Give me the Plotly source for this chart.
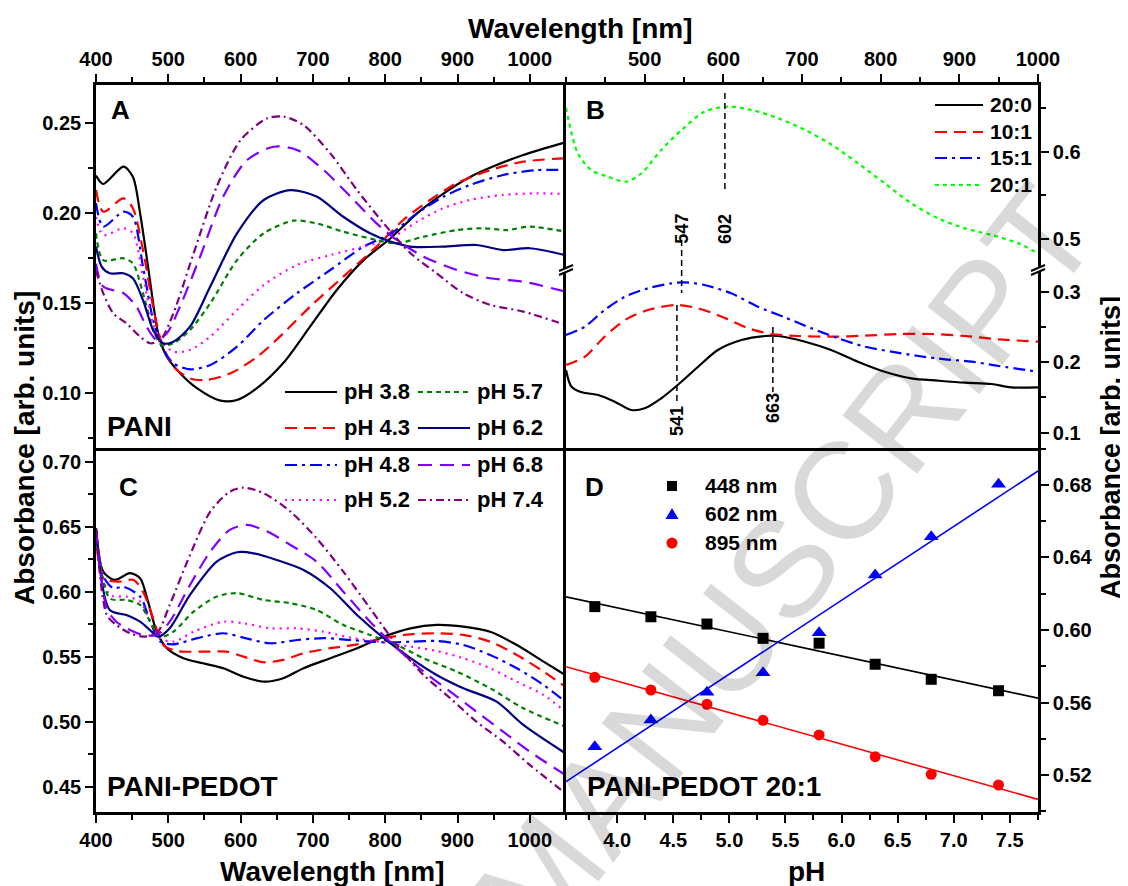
import numpy as np
import plotly.graph_objects as go

# ------------------------------------------------------------------ data
# Panel A (PANI) : wavelength [nm] / absorbance
A38_WL = [400, 410, 438, 451, 461, 472, 484, 489, 498, 516, 539, 572, 595, 623, 659, 696, 733, 770, 807, 844, 881, 918, 954, 991, 1049]
A38_AB = [0.221, 0.2163, 0.2259, 0.2203, 0.200, 0.1703, 0.137, 0.129, 0.1203, 0.1113, 0.103, 0.0959, 0.0963, 0.103, 0.1168, 0.137, 0.1574, 0.174, 0.186, 0.200, 0.2111, 0.2203, 0.2268, 0.2324, 0.2394]
A43_WL = [400, 410, 438, 451, 465, 479, 491, 507, 530, 553, 586, 623, 659, 696, 742, 788, 825, 862, 899, 945, 991, 1049]
A43_AB = [0.213, 0.2009, 0.2083, 0.2028, 0.1796, 0.1481, 0.1278, 0.1148, 0.1083, 0.1074, 0.1111, 0.1203, 0.1333, 0.1481, 0.1648, 0.1815, 0.1963, 0.2074, 0.2167, 0.224, 0.2287, 0.2306]
A48_WL = [400, 410, 438, 451, 465, 479, 491, 507, 530, 558, 595, 632, 678, 724, 770, 807, 844, 881, 917, 963, 1009, 1049]
A48_AB = [0.2056, 0.1926, 0.2009, 0.1981, 0.1703, 0.1407, 0.1259, 0.1167, 0.1133, 0.1157, 0.1259, 0.1407, 0.1556, 0.1685, 0.1815, 0.1885, 0.200, 0.2093, 0.2157, 0.2213, 0.224, 0.224]
A52_WL = [400, 410, 438, 451, 465, 479, 491, 507, 530, 558, 595, 632, 678, 724, 770, 807, 844, 880, 917, 963, 1009, 1049]
A52_AB = [0.198, 0.188, 0.1917, 0.1889, 0.1648, 0.139, 0.1287, 0.1231, 0.1241, 0.1315, 0.1463, 0.1602, 0.1713, 0.1768, 0.1815, 0.186, 0.1953, 0.2028, 0.2074, 0.2102, 0.2111, 0.2107]
A57_WL = [400, 410, 438, 451, 465, 479, 491, 507, 530, 558, 595, 632, 673, 705, 742, 788, 816, 853, 899, 936, 968, 1000, 1049]
A57_AB = [0.1889, 0.174, 0.175, 0.1722, 0.1556, 0.1352, 0.1268, 0.1278, 0.1352, 0.150, 0.174, 0.1889, 0.1959, 0.1944, 0.1898, 0.1852, 0.1833, 0.187, 0.1907, 0.1917, 0.1907, 0.1926, 0.1898]
A62_WL = [400, 408, 419, 438, 451, 465, 479, 493, 507, 530, 558, 595, 632, 669, 705, 742, 779, 807, 834, 880, 926, 963, 1000, 1049]
A62_AB = [0.1815, 0.1703, 0.1667, 0.1667, 0.1639, 0.1518, 0.1352, 0.1278, 0.1287, 0.137, 0.1593, 0.1889, 0.2074, 0.2129, 0.2093, 0.1981, 0.1889, 0.1843, 0.1815, 0.1815, 0.1824, 0.1796, 0.1806, 0.1768]
A68_WL = [400, 410, 438, 456, 470, 484, 498, 516, 544, 576, 609, 646, 678, 715, 752, 788, 816, 853, 899, 945, 991, 1049]
A68_AB = [0.172, 0.1593, 0.1556, 0.1481, 0.137, 0.1296, 0.1333, 0.1481, 0.1759, 0.2093, 0.2296, 0.237, 0.2352, 0.224, 0.2093, 0.1944, 0.1852, 0.1759, 0.1685, 0.1639, 0.162, 0.1565]
A74_WL = [400, 410, 424, 442, 461, 475, 489, 507, 535, 567, 600, 637, 660, 687, 724, 761, 798, 835, 871, 908, 945, 991, 1049]
A74_AB = [0.168, 0.1556, 0.1444, 0.1389, 0.1315, 0.1278, 0.1296, 0.1444, 0.1778, 0.2148, 0.2407, 0.2528, 0.2537, 0.249, 0.2333, 0.2129, 0.1944, 0.1778, 0.1667, 0.1556, 0.1491, 0.1454, 0.138]

# Panel C (PANI-PEDOT)
C38_WL = [400, 410, 426, 447, 461, 472, 484, 498, 521, 548, 576, 604, 632, 659, 687, 724, 761, 798, 835, 871, 908, 945, 982, 1019, 1049]
C38_AB = [0.6488, 0.6154, 0.609, 0.6142, 0.6103, 0.5923, 0.5692, 0.5565, 0.5488, 0.5449, 0.5411, 0.5346, 0.5308, 0.5334, 0.5411, 0.5488, 0.5565, 0.5654, 0.5718, 0.5744, 0.5731, 0.5692, 0.559, 0.5462, 0.5359]
C43_WL = [400, 410, 431, 452, 465, 479, 493, 512, 544, 581, 604, 632, 659, 687, 724, 761, 798, 835, 871, 908, 945, 982, 1019, 1049]
C43_AB = [0.648, 0.6103, 0.6077, 0.609, 0.600, 0.5795, 0.559, 0.5544, 0.5538, 0.5538, 0.550, 0.5457, 0.5475, 0.5526, 0.5565, 0.5595, 0.5642, 0.5672, 0.568, 0.5667, 0.5615, 0.5513, 0.5385, 0.5269]
C48_WL = [400, 410, 424, 438, 461, 475, 489, 507, 540, 576, 604, 641, 678, 715, 752, 798, 835, 871, 908, 945, 982, 1019, 1049]
C48_AB = [0.648, 0.612, 0.6026, 0.6038, 0.5962, 0.5769, 0.5615, 0.5595, 0.5642, 0.568, 0.5646, 0.5603, 0.5628, 0.5642, 0.5628, 0.561, 0.5615, 0.562, 0.559, 0.5513, 0.5411, 0.5282, 0.5154]
C52_WL = [400, 419, 442, 461, 475, 489, 507, 535, 576, 604, 641, 678, 715, 752, 798, 835, 871, 908, 945, 982, 1019, 1049]
C52_AB = [0.648, 0.5975, 0.5962, 0.5923, 0.5769, 0.5642, 0.5615, 0.5692, 0.5769, 0.5757, 0.5718, 0.5718, 0.5692, 0.5646, 0.561, 0.5577, 0.5544, 0.5488, 0.5411, 0.5308, 0.5205, 0.5077]
C57_WL = [400, 419, 442, 461, 475, 489, 507, 535, 567, 595, 632, 669, 705, 742, 779, 816, 853, 899, 945, 991, 1049]
C57_AB = [0.648, 0.5949, 0.5936, 0.5898, 0.5769, 0.5654, 0.5692, 0.5846, 0.5962, 0.5988, 0.5936, 0.5911, 0.5859, 0.5744, 0.5667, 0.559, 0.5488, 0.5385, 0.5257, 0.5103, 0.4962]
C62_WL = [400, 419, 442, 461, 477, 486, 502, 530, 567, 595, 618, 650, 687, 724, 761, 798, 835, 871, 908, 954, 991, 1049]
C62_AB = [0.648, 0.5859, 0.582, 0.5769, 0.5692, 0.5654, 0.5718, 0.5975, 0.6231, 0.6303, 0.6295, 0.6244, 0.6167, 0.6026, 0.582, 0.5642, 0.5488, 0.5359, 0.5257, 0.5154, 0.4975, 0.4757]
C68_WL = [400, 415, 428, 447, 465, 484, 502, 530, 558, 585, 609, 637, 669, 705, 742, 779, 816, 853, 890, 926, 963, 1000, 1049]
C68_AB = [0.648, 0.5872, 0.5769, 0.5705, 0.5667, 0.5667, 0.5769, 0.6051, 0.6308, 0.6475, 0.6513, 0.6462, 0.6359, 0.6231, 0.600, 0.5769, 0.5565, 0.5385, 0.5231, 0.5077, 0.4923, 0.4769, 0.459]
C74_WL = [400, 415, 428, 447, 465, 484, 502, 530, 558, 585, 604, 632, 669, 705, 742, 779, 816, 853, 890, 926, 963, 1000, 1049]
C74_AB = [0.648, 0.582, 0.5744, 0.568, 0.5654, 0.568, 0.5898, 0.6282, 0.6615, 0.6769, 0.680, 0.6757, 0.6615, 0.6411, 0.6154, 0.5872, 0.559, 0.5359, 0.518, 0.500, 0.4846, 0.4667, 0.445]

# Panel B (PANI:PEDOT ratios)
B200_WL = [400, 407, 420, 441, 462, 483, 500, 521, 542, 568, 593, 623, 653, 670, 704, 737, 771, 805, 839, 873, 907, 941, 966, 1000]
B200_AB = [0.1889, 0.1652, 0.1573, 0.1535, 0.144, 0.1322, 0.1346, 0.1488, 0.1677, 0.1936, 0.2173, 0.2315, 0.2372, 0.2372, 0.2291, 0.2173, 0.2007, 0.1865, 0.1771, 0.1738, 0.1709, 0.1691, 0.1644, 0.1644]
B101_WL = [400, 424, 449, 475, 504, 540, 568, 598, 632, 661, 695, 738, 780, 822, 865, 907, 950, 1000]
B101_AB = [0.196, 0.2078, 0.2362, 0.2599, 0.274, 0.2811, 0.2764, 0.2645, 0.2481, 0.24, 0.2372, 0.2362, 0.2376, 0.24, 0.24, 0.2372, 0.2325, 0.2291]
B151_WL = [400, 424, 449, 475, 504, 534, 551, 576, 610, 644, 678, 712, 746, 780, 814, 848, 882, 916, 950, 1000]
B151_AB = [0.2386, 0.2504, 0.274, 0.2929, 0.3048, 0.3119, 0.3133, 0.3095, 0.2977, 0.2787, 0.2637, 0.2481, 0.2339, 0.222, 0.2149, 0.2088, 0.2041, 0.2007, 0.1946, 0.1865]
B201_WL = [400, 415, 432, 453, 477, 496, 521, 547, 576, 606, 636, 670, 704, 738, 771, 805, 839, 873, 907, 941, 975, 1000]
B201_AB = [0.650, 0.598, 0.579, 0.5714, 0.5657, 0.5753, 0.6018, 0.6246, 0.6455, 0.6512, 0.6474, 0.638, 0.6246, 0.6075, 0.5867, 0.5639, 0.541, 0.5239, 0.5125, 0.5049, 0.4954, 0.484]
B_PEAKS = [541, 547, 602, 663]

# Panel D (PANI-PEDOT 20:1)
D_PH = [3.8, 4.3, 4.8, 5.3, 5.8, 6.3, 6.8, 7.4]
D_448 = [0.6129, 0.6073, 0.6033, 0.5954, 0.5927, 0.5811, 0.5728, 0.5665]
D_602 = [0.5356, 0.5503, 0.5656, 0.5764, 0.5985, 0.6303, 0.6515, 0.6804]
D_895 = [0.5739, 0.5669, 0.5590, 0.5502, 0.5421, 0.5301, 0.5204, 0.5145]

PH_LABELS = ["pH 3.8", "pH 4.3", "pH 4.8", "pH 5.2", "pH 5.7", "pH 6.2", "pH 6.8", "pH 7.4"]
B_LABELS = ["20:0", "10:1", "15:1", "20:1"]
D_LABELS = ["448 nm", "602 nm", "895 nm"]

# ------------------------------------------------------------------ styles
FONT = "Liberation Sans, Arial, sans-serif"
PH_COLORS = ["#000000", "#ff0000", "#0000ff", "#ff00ff", "#008000", "#000080", "#8000ff", "#800080"]
PH_DASH = ["solid", "12px,7px", "12px,5px,3px,5px", "2px,5px", "5px,4px", "solid", "14px,8px", "8px,4px,2px,4px"]
B_COLORS = ["#000000", "#ff0000", "#0000ff", "#00ff00"]
B_DASH = ["solid", "12px,7px", "12px,5px,3px,5px", "4px,4px"]
D_COLORS = ["#000000", "#0000ff", "#ff0000"]
D_SYMBOLS = ["square", "triangle-up", "circle"]

# frame in screen pixels (page body adds an 8px offset)
OFF = 8
W, H = 1128 - OFF, 886 - OFF
FL, FR, FT, FB = 96, 1038, 85, 812
XMID, YMID, YBRK = 566, 448, 270


def px(x):
    return (x - FL) / (FR - FL)


def py(y):
    return (FB - y) / (FB - FT)


A_SERIES = [(A38_WL, A38_AB), (A43_WL, A43_AB), (A48_WL, A48_AB), (A52_WL, A52_AB),
            (A57_WL, A57_AB), (A62_WL, A62_AB), (A68_WL, A68_AB), (A74_WL, A74_AB)]
C_SERIES = [(C38_WL, C38_AB), (C43_WL, C43_AB), (C48_WL, C48_AB), (C52_WL, C52_AB),
            (C57_WL, C57_AB), (C62_WL, C62_AB), (C68_WL, C68_AB), (C74_WL, C74_AB)]
B_LOWER = [(B200_WL, B200_AB), (B101_WL, B101_AB), (B151_WL, B151_AB)]

fig = go.Figure()

for i, (wl, ab) in enumerate(A_SERIES):
    fig.add_trace(go.Scatter(x=wl, y=ab, mode="lines", xaxis="x", yaxis="y",
                             line=dict(color=PH_COLORS[i], dash=PH_DASH[i], width=2.2, shape="spline", smoothing=0.8),
                             showlegend=False, hoverinfo="skip"))
for i, (wl, ab) in enumerate(C_SERIES):
    fig.add_trace(go.Scatter(x=wl, y=ab, mode="lines", xaxis="x2", yaxis="y2",
                             line=dict(color=PH_COLORS[i], dash=PH_DASH[i], width=2.2, shape="spline", smoothing=0.8),
                             showlegend=False, hoverinfo="skip"))
fig.add_trace(go.Scatter(x=B201_WL, y=B201_AB, mode="lines", xaxis="x3", yaxis="y3",
                         line=dict(color=B_COLORS[3], dash=B_DASH[3], width=2.2, shape="spline", smoothing=0.8),
                         showlegend=False, hoverinfo="skip"))
for i, (wl, ab) in enumerate(B_LOWER):
    fig.add_trace(go.Scatter(x=wl, y=ab, mode="lines", xaxis="x4", yaxis="y4",
                             line=dict(color=B_COLORS[i], dash=B_DASH[i], width=2.2, shape="spline", smoothing=0.8),
                             showlegend=False, hoverinfo="skip"))

D_XRANGE = [3.543, 7.752]
for vals, col, sym in zip([D_448, D_602, D_895], D_COLORS, D_SYMBOLS):
    k, b = np.polyfit(D_PH, vals, 1)
    xr = np.array(D_XRANGE)
    fig.add_trace(go.Scatter(x=xr, y=k * xr + b, mode="lines", xaxis="x5", yaxis="y5",
                             line=dict(color=col, width=1.6), showlegend=False, hoverinfo="skip"))
    size = 13 if sym == "triangle-up" else 11
    fig.add_trace(go.Scatter(x=D_PH, y=vals, mode="markers", xaxis="x5", yaxis="y5",
                             marker=dict(color=col, symbol=sym, size=size, line=dict(width=0)),
                             showlegend=False, hoverinfo="skip"))

# ------------------------------------------------------------------ axes
TICKFONT = dict(family=FONT, size=20, color="black", weight="bold")
LW = 2.6


def axis(**kw):
    base = dict(showgrid=False, zeroline=False, showline=True, linecolor="black", linewidth=LW,
                ticks="outside", ticklen=8, tickwidth=2, tickcolor="black", tickfont=TICKFONT,
                fixedrange=True)
    base.update(kw)
    return base


def minor(d, t0=0):
    return dict(dtick=d, tick0=t0, ticks="outside", ticklen=5, tickwidth=2, tickcolor="black")


xl = [0, px(XMID)]
xr_ = [px(XMID), 1]
fig.update_layout(
    xaxis=axis(domain=xl, anchor="y", side="top", range=[400, 1050], dtick=100, tick0=400, mirror=True,
               minor=minor(50, 400)),
    yaxis=axis(domain=[py(YMID), 1], anchor="x", range=[0.0696, 0.2713], dtick=0.05, tick0=0, tickformat=".2f",
               mirror=False, minor=minor(0.025)),
    xaxis2=axis(domain=xl, anchor="y2", side="bottom", range=[400, 1050], dtick=100, tick0=400, mirror=False,
                minor=minor(50, 400)),
    yaxis2=axis(domain=[0, py(YMID)], anchor="x2", range=[0.4305, 0.7105], dtick=0.05, tick0=0, tickformat=".2f",
                mirror=False, minor=minor(0.025)),
    xaxis3=axis(domain=xr_, anchor="y3", side="top", range=[400, 1000], tickmode="array",
                tickvals=[500, 600, 700, 800, 900, 1000], mirror=False, minor=minor(50, 400)),
    yaxis3=axis(domain=[py(YBRK), 1], anchor="x3", side="right", range=[0.465, 0.6759], dtick=0.1, tick0=0,
                tickformat=".1f", mirror=True, minor=minor(0.05)),
    xaxis4=axis(domain=xr_, anchor="y4", side="bottom", range=[400, 1000], ticks="", showticklabels=False,
                mirror=False),
    yaxis4=axis(domain=[py(YMID), py(YBRK)], anchor="x4", side="right", range=[0.0783, 0.3308], dtick=0.1,
                tick0=0, tickformat=".1f", mirror=True, minor=minor(0.05)),
    xaxis5=axis(domain=xr_, anchor="y5", side="bottom", range=D_XRANGE, dtick=0.5, tick0=0, tickformat=".1f",
                mirror=False, minor=minor(0.25)),
    yaxis5=axis(domain=[0, py(YMID)], anchor="x5", side="right", range=[0.4996, 0.7004], dtick=0.04, tick0=0,
                tickformat=".2f", mirror=True, minor=minor(0.02)),
)

# ------------------------------------------------------------------ annotations / shapes
ann = []
shapes = []


def text(x, y, s, size, xanchor="center", yanchor="middle", angle=0, color="black", bold=True, family=FONT):
    ann.append(dict(x=px(x), y=py(y), xref="paper", yref="paper", text=s, showarrow=False,
                    xanchor=xanchor, yanchor=yanchor, textangle=angle,
                    font=dict(family=family, size=size, color=color, weight="bold" if bold else "normal")))


def seg(x0, y0, x1, y1, color="black", dash="solid", width=2.2):
    shapes.append(dict(type="line", xref="paper", yref="paper", x0=px(x0), y0=py(y0), x1=px(x1), y1=py(y1),
                       line=dict(color=color, dash=dash, width=width), layer="above"))


# watermark
text(785, 565, "MANUSCRIPT", 138, angle=-52, color="rgba(0,0,0,0.15)", bold=False)

# titles
text(580, 28, "Wavelength [nm]", 28)
text(332, 871, "Wavelength [nm]", 28)
text(806, 871, "pH", 28)
text(24, 448, "Absorbance [arb. units]", 28, angle=-90)
text(1111, 448, "Absorbance [arb. units]", 27, angle=-90)

# panel letters and sample names
text(120, 110, "A", 26)
text(595, 110, "B", 26)
text(128, 487, "C", 26)
text(594, 487, "D", 26)
text(105, 426, "PANI", 28, xanchor="left")
text(105, 786, "PANI-PEDOT", 28, xanchor="left")
text(585, 786, "PANI-PEDOT 20:1", 28, xanchor="left")

# pH legend (column-major, straddling A and C)
rows = [392, 428, 465, 500]
for i, lab in enumerate(PH_LABELS):
    col, row = divmod(i, 4)
    x0 = 285 if col == 0 else 418
    seg(x0, rows[row], x0 + 52, rows[row], color=PH_COLORS[i], dash=PH_DASH[i])
    text(x0 + 57, rows[row] - 1, lab, 22, xanchor="left")

# B legend
brows = [105, 132, 158, 185]
for i, lab in enumerate(B_LABELS):
    seg(935, brows[i], 983, brows[i], color=B_COLORS[i], dash=B_DASH[i])
    text(988, brows[i] - 1, lab, 21, xanchor="left")

# D legend markers
drows = [486, 514, 543]
mx = 672
shapes.append(dict(type="rect", xref="paper", yref="paper", x0=px(mx - 5), x1=px(mx + 5), y0=py(drows[0] + 5),
                   y1=py(drows[0] - 5), fillcolor=D_COLORS[0], line=dict(width=0), layer="above"))
shapes.append(dict(type="path", xref="paper", yref="paper",
                   path=f"M {px(mx - 6.5)} {py(drows[1] + 5)} L {px(mx + 6.5)} {py(drows[1] + 5)} L {px(mx)} {py(drows[1] - 6)} Z",
                   fillcolor=D_COLORS[1], line=dict(width=0), layer="above"))
shapes.append(dict(type="circle", xref="paper", yref="paper", x0=px(mx - 5.5), x1=px(mx + 5.5),
                   y0=py(drows[2] + 5.5), y1=py(drows[2] - 5.5), fillcolor=D_COLORS[2], line=dict(width=0),
                   layer="above"))
for i, lab in enumerate(D_LABELS):
    text(703, drows[i] - 1, lab, 21, xanchor="left")

# B peak markers (dashed guide lines + rotated labels)
peak_ext = {541: (305, 405, 421), 547: (240, 293, 212), 602: (93, 190, 212), 663: (327, 392, 408)}
for p in B_PEAKS:
    y0, y1, ylab = peak_ext[p]
    shapes.append(dict(type="line", xref="x3", yref="paper", x0=p, x1=p, y0=py(y0), y1=py(y1),
                       line=dict(color="black", dash="6px,4px", width=1.5), layer="above"))
    ann.append(dict(x=p, y=py(ylab), xref="x3", yref="paper", text=str(p), showarrow=False, textangle=-90,
                    font=dict(family=FONT, size=18, color="black", weight="bold")))

# axis breaks
for bx in (XMID, FR):
    shapes.append(dict(type="rect", xref="paper", yref="paper", x0=px(bx - 5), x1=px(bx + 5),
                       y0=py(YBRK + 2), y1=py(YBRK - 2), fillcolor="white", line=dict(width=0), layer="above"))
    seg(bx - 7, YBRK + 1, bx + 7, YBRK - 5, width=2)
    seg(bx - 7, YBRK + 5, bx + 7, YBRK - 1, width=2)

fig.update_layout(
    width=W, height=H, autosize=False,
    margin=dict(l=FL - OFF, r=W - (FR - OFF), t=FT - OFF, b=H - (FB - OFF), pad=0),
    paper_bgcolor="white", plot_bgcolor="rgba(0,0,0,0)",
    showlegend=False, annotations=ann, shapes=shapes,
    font=dict(family=FONT, color="black"),
)

fig.write_html("out.html")
